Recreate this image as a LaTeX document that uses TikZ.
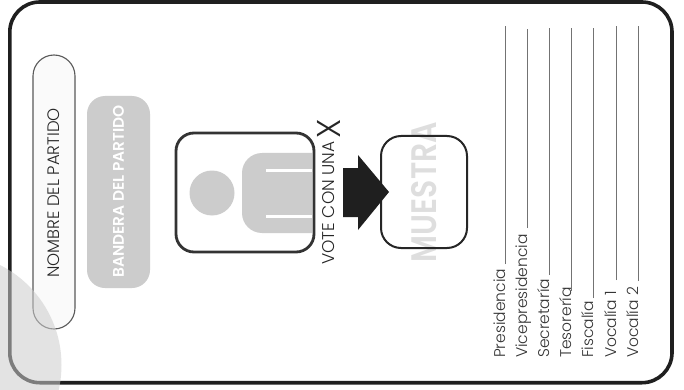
\documentclass[tikz,border=0pt]{standalone}
\usepackage{fontspec}
\setmainfont{Poppins}[UprightFont=* Light,BoldFont=* SemiBold]
\tikzset{
  px/.style={x=1pt,y=-1pt},
  card/.style={draw=black!88,line width=3.6pt,rounded corners=30pt},
  partybox/.style={draw=black!65,line width=1.1pt,fill=black!2,rounded corners=21pt},
  flagbox/.style={fill=black!20,rounded corners=18pt},
  photobox/.style={draw=black!80,line width=2.8pt,rounded corners=18pt},
  markbox/.style={draw=black!85,line width=2pt,rounded corners=20pt},
  vtext/.style={rotate=90,inner sep=0pt,anchor=center,text=black!85},
  role/.style={rotate=90,inner sep=0pt,anchor=base west,text=black!80,font=\fontsize{15.5}{17}\selectfont},
  rule/.style={draw=black!55,line width=1pt},
}
\begin{document}
\begin{tikzpicture}[px]
\useasboundingbox (0,0) rectangle (684,390);
\fill[white] (0,0) rectangle (684,390);
\draw[card] (9.8,2) rectangle (672,382.7);
\draw[partybox] (33,55) rectangle (75,329);
\node[vtext,font=\fontsize{16.6}{18}\selectfont] (party) at (54,193) {NOMBRE DEL PARTIDO};
\fill[flagbox] (87,96) rectangle (150,288);
\node[vtext,text=white,font=\fontsize{15.4}{17}\bfseries] (flag) at (118.5,191.5) {BANDERA DEL PARTIDO};
% person
\fill[black!20] (212,193) circle (22.5);
\fill[black!20] (312,153) {[rounded corners=20pt] -- (242,153) -- (242,233)} -- (312,233) -- cycle;
\draw[white,line width=3pt] (266,170) -- (312,170) (266,216) -- (312,216);
\draw[photobox] (176,133) rectangle (314,252);
% instruction
\node[vtext,font=\fontsize{17}{19}\selectfont] (vote) at (329,203) {VOTE CON UNA};
\node[vtext,font=\fontsize{33}{34}\selectfont] (xmark) at (329,129) {X};
% sample
\node[vtext,text=black!13,font=\fontsize{30}{32}\bfseries] (muestra) at (424.5,192) {\scalebox{1}[1.18]{MUESTRA}};
\draw[markbox] (381,136) rectangle (467,248);
\fill[black!88] (343,168) -- (358,168) -- (358,155) -- (389,192) -- (358,230) -- (358,217) -- (343,217) -- cycle;
% roles
\node[role] (r1) at (505,358) {Presidencia};
\node[role] (r2) at (527,358) {Vicepresidencia};
\node[role] (r3) at (549,358) {Secretaría};
\node[role] (r4) at (571.5,358) {Tesorería};
\node[role] (r5) at (593.5,358) {Fiscalía};
\node[role] (r6) at (616,358) {Vocalía 1};
\node[role] (r7) at (638,358) {Vocalía 2};
\draw[rule] (505,264) -- (505,26);
\draw[rule] (527,228) -- (527,29);
\draw[rule] (549,275) -- (549,28.5);
\draw[rule] (571.5,291) -- (571.5,28);
\draw[rule] (593.5,298) -- (593.5,28);
\draw[rule] (616,280) -- (616,26);
\draw[rule] (638,281) -- (638,26);
% corner
\begin{scope}
\clip (0,0) rectangle (684,390);
\fill[black!20,opacity=.55] (-50.5,365) circle (112);
\end{scope}
\end{tikzpicture}
\end{document}
